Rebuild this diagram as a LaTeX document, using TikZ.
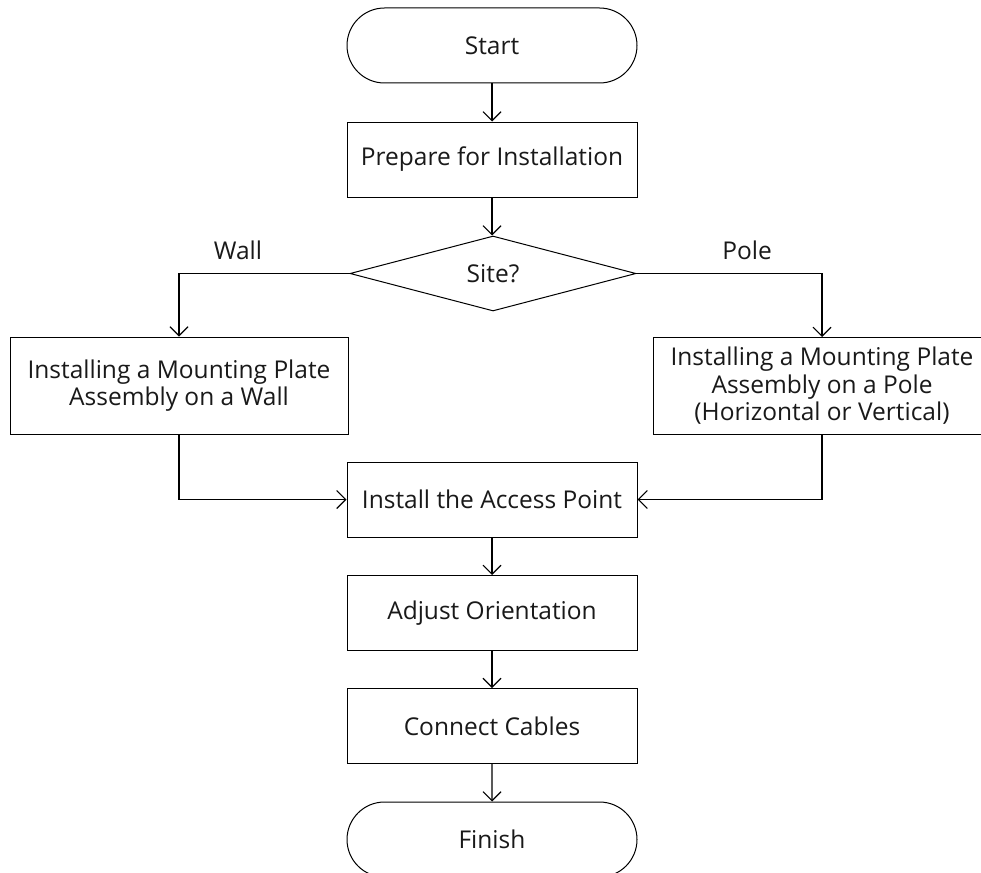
\documentclass[tikz,border=0pt]{standalone}
\usepackage{fontspec}
\setmainfont{Open Sans}
\usetikzlibrary{shapes.geometric,shapes.misc,arrows.meta}
\begin{document}
\begin{tikzpicture}[x=1pt,y=-1pt,
  every node/.style={font=\fontsize{24.5}{27.5}\selectfont, text=black!90},
  proc/.style={draw, line width=1pt, rectangle, minimum width=290, minimum height=75, inner sep=0pt, align=center},
  wide/.style={proc, minimum width=338, minimum height=97},
  term/.style={draw, line width=1pt, rounded rectangle, minimum width=290, minimum height=75, inner sep=0pt},
  decide/.style={draw, line width=1pt, diamond, aspect=3.8, minimum width=286, minimum height=75, inner sep=0pt},
  flow/.style={draw, line width=1.1pt, -{Straight Barb[length=9pt,width=18pt,line width=1.1pt]}},
  lbl/.style={inner sep=0pt}
]
\useasboundingbox (0,0) rectangle (981,872);
\clip (0,0) rectangle (981,872);
\node[term] (start) at (492,45.5) {Start};
\node[proc] (prep) at (492,159.5) {Prepare for Installation};
\node[decide] (site) at (493,273.5) {Site?};
\node[wide] (wall) at (179,385.5) {Installing a Mounting Plate\\Assembly on a Wall};
\node[wide] (pole) at (822,386) {Installing a Mounting Plate\\Assembly on a Pole\\(Horizontal or Vertical)};
\node[proc] (install) at (492,499.5) {Install the Access Point};
\node[proc] (adjust) at (492,613) {Adjust Orientation};
\node[proc] (connect) at (492,726) {Connect Cables};
\node[term] (finish) at (492,839.5) {Finish};
\node[lbl] (wlbl) at (238,250) {Wall};
\node[lbl] (plbl) at (747,250) {Pole};
\draw[flow] (start) -- (prep);
\draw[flow] (prep) -- (site.north -| prep.south);
\draw[flow] (site.west) -| (wall.north);
\draw[flow] (site.east) -| (pole.north);
\draw[flow] (wall.south) |- (install.west);
\draw[flow] (pole.south) |- (install.east);
\draw[flow] (install) -- (adjust);
\draw[flow] (adjust) -- (connect);
\draw[flow] (connect) -- (finish);
\end{tikzpicture}
\end{document}
